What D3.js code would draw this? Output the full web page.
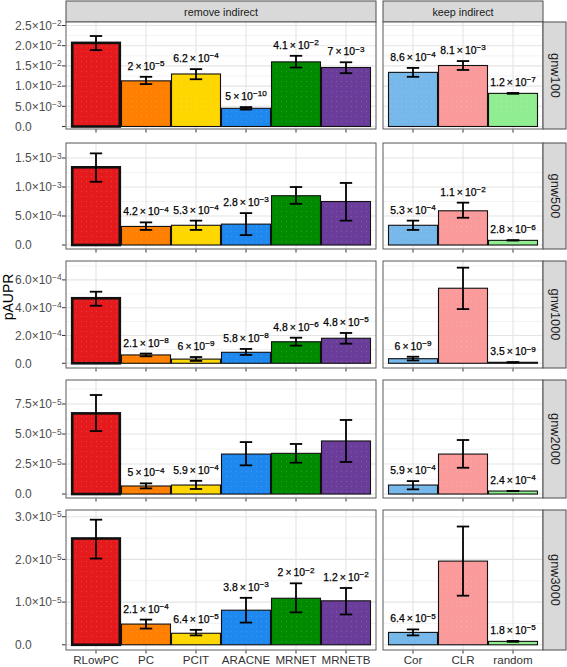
<!DOCTYPE html>
<html>
<head>
<meta charset="utf-8">
<script src="https://cdnjs.cloudflare.com/ajax/libs/d3/7.8.5/d3.min.js"></script>
<style>
  html, body { margin: 0; padding: 0; background: #ffffff; }
  svg { display: block; }
</style>
</head>
<body>
<script>
// ---------------- data ----------------
const categoriesLeft = ["RLowPC", "PC", "PCIT", "ARACNE", "MRNET", "MRNETB"];
const categoriesRight = ["Cor", "CLR", "random"];
const facetCols = ["remove indirect", "keep indirect"];
const networks = ["gnw100", "gnw500", "gnw1000", "gnw2000", "gnw3000"];
const barColors = ["#e41a1c", "#ff7f00", "#ffd700", "#1e88ee", "#008a00", "#6a3d9a", "#76b8ea", "#fa9a9a", "#90ee90"];

// order: RLowPC, PC, PCIT, ARACNE, MRNET, MRNETB, Cor, CLR, random
const mean_gnw100 = [0.0207, 0.0113, 0.0130, 0.0045, 0.0160, 0.0146, 0.0134, 0.0151, 0.0082];
const low_gnw100  = [0.0189, 0.0105, 0.0117, 0.0042, 0.0146, 0.0132, 0.0123, 0.0140, 0.0081];
const high_gnw100 = [0.0224, 0.0123, 0.0142, 0.0048, 0.0175, 0.0159, 0.0145, 0.0162, 0.0083];
const pval_gnw100 = ["", "2^-5", "6.2^-4", "5^-10", "4.1^-2", "7^-3", "8.6^-4", "8.1^-3", "1.2^-7"];

const mean_gnw500 = [0.00134, 0.00032, 0.00034, 0.00036, 0.00085, 0.00075, 0.00034, 0.00059, 0.00008];
const low_gnw500  = [0.00109, 0.00026, 0.00026, 0.00017, 0.00071, 0.00042, 0.00026, 0.00047, 0.000078];
const high_gnw500 = [0.00158, 0.00039, 0.00042, 0.00055, 0.00100, 0.00107, 0.00042, 0.00073, 0.000082];
const pval_gnw500 = ["", "4.2^-4", "5.3^-4", "2.8^-3", "", "", "5.3^-4", "1.1^-2", "2.8^-6"];

const mean_gnw1000 = [0.000468, 0.000060, 0.000030, 0.000079, 0.000155, 0.000180, 0.000033, 0.000540, 0.000007];
const low_gnw1000  = [0.000414, 0.000050, 0.000017, 0.000060, 0.000127, 0.000141, 0.000020, 0.000390, 0.0000065];
const high_gnw1000 = [0.000515, 0.000070, 0.000045, 0.000103, 0.000184, 0.000218, 0.000047, 0.000688, 0.0000075];
const pval_gnw1000 = ["", "2.1^-8", "6^-9", "5.8^-8", "4.8^-6", "4.8^-5", "6^-9", "", "3.5^-9"];

const mean_gnw2000 = [0.0000672, 0.0000067, 0.0000075, 0.0000333, 0.0000339, 0.0000442, 0.0000075, 0.0000333, 0.0000025];
const low_gnw2000  = [0.0000525, 0.0000047, 0.0000042, 0.0000239, 0.0000261, 0.0000267, 0.0000039, 0.0000219, 0.0000024];
const high_gnw2000 = [0.0000825, 0.0000089, 0.0000110, 0.0000433, 0.0000417, 0.0000617, 0.0000108, 0.0000450, 0.0000026];
const pval_gnw2000 = ["", "5^-4", "5.9^-4", "", "", "", "5.9^-4", "", "2.4^-4"];

const mean_gnw3000 = [0.0000249, 0.00000485, 0.0000027, 0.0000081, 0.0000109, 0.0000103, 0.0000029, 0.0000196, 0.0000008];
const low_gnw3000  = [0.0000202, 0.0000038, 0.0000022, 0.0000052, 0.0000076, 0.0000071, 0.0000022, 0.0000115, 0.0000007];
const high_gnw3000 = [0.0000293, 0.0000059, 0.0000035, 0.0000110, 0.0000144, 0.0000133, 0.0000036, 0.0000277, 0.0000009];
const pval_gnw3000 = ["", "2.1^-4", "6.4^-5", "3.8^-3", "2^-2", "1.2^-2", "6.4^-5", "", "1.8^-5"];

// y axis extents and ticks per row
const yLimits = [[-0.00062, 0.02587], [-0.000069, 0.001759], [-0.000034, 0.000736], [-0.0000033, 0.000095], [-0.00000122, 0.00003157]];
const yTicks = [
  [0, 0.005, 0.01, 0.015, 0.02, 0.025],
  [0, 0.0005, 0.001, 0.0015],
  [0, 0.0002, 0.0004, 0.0006],
  [0, 0.000025, 0.00005, 0.000075],
  [0, 0.00001, 0.00002, 0.00003]
];
const yTickLabels = [
  ["0.0", "5.0×10^-3", "1.0×10^-2", "1.5×10^-2", "2.0×10^-2", "2.5×10^-2"],
  ["0.0", "5.0×10^-4", "1.0×10^-3", "1.5×10^-3"],
  ["0.0", "2.0×10^-4", "4.0×10^-4", "6.0×10^-4"],
  ["0.0", "2.5×10^-5", "5.0×10^-5", "7.5×10^-5"],
  ["0.0", "1.0×10^-5", "2.0×10^-5", "3.0×10^-5"]
];
const yTitle = "pAUPR";

const means = [mean_gnw100, mean_gnw500, mean_gnw1000, mean_gnw2000, mean_gnw3000];
const lows = [low_gnw100, low_gnw500, low_gnw1000, low_gnw2000, low_gnw3000];
const highs = [high_gnw100, high_gnw500, high_gnw1000, high_gnw2000, high_gnw3000];
const pvals = [pval_gnw100, pval_gnw500, pval_gnw1000, pval_gnw2000, pval_gnw3000];

// ---------------- layout ----------------
const W = 567, H = 667;
const rowBounds = [[22, 129], [143, 249], [261, 368], [380, 498], [510, 650]];
const leftRange = [66, 376], rightRange = [383, 543];
const stripTop = [1, 22], stripRight = [543, 566];
const FONT = "'Liberation Sans', Arial, Helvetica, sans-serif";

const svg = d3.select("body").append("svg")
  .attr("width", W).attr("height", H)
  .style("font-family", FONT);

// dot texture
const defs = svg.append("defs");
const pat = defs.append("pattern").attr("id", "dots")
  .attr("patternUnits", "userSpaceOnUse").attr("width", 5).attr("height", 5);
pat.append("circle").attr("cx", 1.5).attr("cy", 1.5).attr("r", 0.5).attr("fill", "#ffffff").attr("opacity", 0.2);

const xLeft = d3.scaleBand().domain(categoriesLeft).range(leftRange).paddingInner(0).paddingOuter(0.1);
const xRight = d3.scaleBand().domain(categoriesRight).range(rightRange).paddingInner(0).paddingOuter(0.1);
const facets = [
  { name: facetCols[0], cats: categoriesLeft, x: xLeft, range: leftRange, offset: 0 },
  { name: facetCols[1], cats: categoriesRight, x: xRight, range: rightRange, offset: categoriesLeft.length }
];

function sciText(sel, str, supScale) {
  const parts = str.split("^");
  sel.append("tspan").text(parts[0]);
  if (parts.length > 1) {
    sel.append("tspan").attr("dy", "-0.45em").attr("font-size", supScale + "em")
      .text(parts[1].replace("-", "\u2212"));
  }
}

// top strips
facets.forEach(f => {
  svg.append("rect").attr("x", f.range[0]).attr("y", stripTop[0])
    .attr("width", f.range[1] - f.range[0]).attr("height", stripTop[1] - stripTop[0])
    .attr("fill", "#d9d9d9").attr("stroke", "#4d4d4d").attr("stroke-width", 1);
  svg.append("text").attr("x", (f.range[0] + f.range[1]) / 2).attr("y", (stripTop[0] + stripTop[1]) / 2 + 4)
    .attr("text-anchor", "middle").attr("font-size", 10.8).attr("fill", "#1a1a1a").text(f.name);
});

networks.forEach((net, r) => {
  const [top, bot] = rowBounds[r];
  const y = d3.scaleLinear().domain(yLimits[r]).range([bot, top]);
  const ticks = yTicks[r];
  const minor = [];
  for (let i = 0; i < ticks.length; i++) {
    const step = ticks[1] - ticks[0];
    minor.push(ticks[i] + step / 2);
  }

  facets.forEach(f => {
    const g = svg.append("g");
    g.append("rect").attr("x", f.range[0]).attr("y", top).attr("width", f.range[1] - f.range[0])
      .attr("height", bot - top).attr("fill", "#ffffff");
    // minor grid
    minor.filter(v => y(v) > top && y(v) < bot).forEach(v => {
      g.append("line").attr("x1", f.range[0]).attr("x2", f.range[1]).attr("y1", y(v)).attr("y2", y(v))
        .attr("stroke", "#f0f0f0").attr("stroke-width", 0.8);
    });
    // major grid
    ticks.forEach(v => {
      g.append("line").attr("x1", f.range[0]).attr("x2", f.range[1]).attr("y1", y(v)).attr("y2", y(v))
        .attr("stroke", "#e4e4e4").attr("stroke-width", 1.1);
    });
    f.cats.forEach(c => {
      const cx = f.x(c) + f.x.bandwidth() / 2;
      g.append("line").attr("x1", cx).attr("x2", cx).attr("y1", top).attr("y2", bot)
        .attr("stroke", "#e4e4e4").attr("stroke-width", 1.1);
    });
    // bars
    f.cats.forEach((c, i) => {
      const k = f.offset + i;
      const v = means[r][k];
      const thick = (c === "RLowPC");
      const inset = thick ? 1.2 : 0.5;
      g.append("rect").attr("x", f.x(c) + inset).attr("y", y(v))
        .attr("width", f.x.bandwidth() - 2 * inset).attr("height", y(0) - y(v))
        .attr("fill", barColors[k]).attr("stroke", "#111").attr("stroke-width", thick ? 2.6 : 1.1);
      g.append("rect").attr("x", f.x(c) + inset + 1).attr("y", y(v) + 1)
        .attr("width", f.x.bandwidth() - 2 * inset - 2).attr("height", Math.max(0, y(0) - y(v) - 2))
        .attr("fill", "url(#dots)");
    });
    // error bars + labels
    f.cats.forEach((c, i) => {
      const k = f.offset + i;
      const cx = f.x(c) + f.x.bandwidth() / 2;
      const lo = y(lows[r][k]), hi = y(highs[r][k]);
      const hw = 6.2;
      g.append("line").attr("x1", cx).attr("x2", cx).attr("y1", lo).attr("y2", hi)
        .attr("stroke", "#000").attr("stroke-width", 1.8);
      [lo, hi].forEach(yy => g.append("line").attr("x1", cx - hw).attr("x2", cx + hw)
        .attr("y1", yy).attr("y2", yy).attr("stroke", "#000").attr("stroke-width", 1.8));
      const p = pvals[r][k];
      if (p) {
        const parts = p.split("^");
        const t = g.append("text").attr("x", cx).attr("y", hi - 7)
          .attr("text-anchor", "middle").attr("font-size", 10.4).attr("fill", "#000")
          .attr("stroke", "#000").attr("stroke-width", 0.25);
        sciText(t, parts[0] + "\u2009×\u200910^" + parts[1], 0.78);
      }
    });
    // border
    g.append("rect").attr("x", f.range[0]).attr("y", top).attr("width", f.range[1] - f.range[0])
      .attr("height", bot - top).attr("fill", "none").attr("stroke", "#5a5a5a").attr("stroke-width", 1);
    // x ticks
    f.cats.forEach(c => {
      const cx = f.x(c) + f.x.bandwidth() / 2;
      g.append("line").attr("x1", cx).attr("x2", cx).attr("y1", bot + 0.5).attr("y2", bot + 3.5)
        .attr("stroke", "#333").attr("stroke-width", 1);
      if (r === networks.length - 1) {
        g.append("text").attr("x", cx).attr("y", H - 3.5).attr("text-anchor", "middle")
          .attr("font-size", 11.6).attr("fill", "#333").text(c);
      }
    });
  });

  // y axis ticks and labels (left-aligned as in the reference)
  ticks.forEach((v, i) => {
    svg.append("line").attr("x1", leftRange[0] - 4).attr("x2", leftRange[0] - 0.5)
      .attr("y1", y(v)).attr("y2", y(v)).attr("stroke", "#333").attr("stroke-width", 1);
    const t = svg.append("text").attr("x", 15).attr("y", y(v) + 4.3)
      .attr("text-anchor", "start").attr("font-size", 12).attr("fill", "#4d4d4d");
    sciText(t, yTickLabels[r][i], 0.7);
  });

  // right strip
  svg.append("rect").attr("x", stripRight[0]).attr("y", top).attr("width", stripRight[1] - stripRight[0])
    .attr("height", bot - top).attr("fill", "#d9d9d9").attr("stroke", "#4d4d4d").attr("stroke-width", 1);
  svg.append("text").attr("transform", `translate(551,${(top + bot) / 2}) rotate(90)`)
    .attr("text-anchor", "middle").attr("font-size", 12.8).attr("fill", "#1a1a1a").text(net);
});

// y title
svg.append("text").attr("transform", "translate(13,297) rotate(-90)")
  .attr("text-anchor", "middle").attr("font-size", 14).attr("fill", "#000").text(yTitle);
</script>
</body>
</html>
